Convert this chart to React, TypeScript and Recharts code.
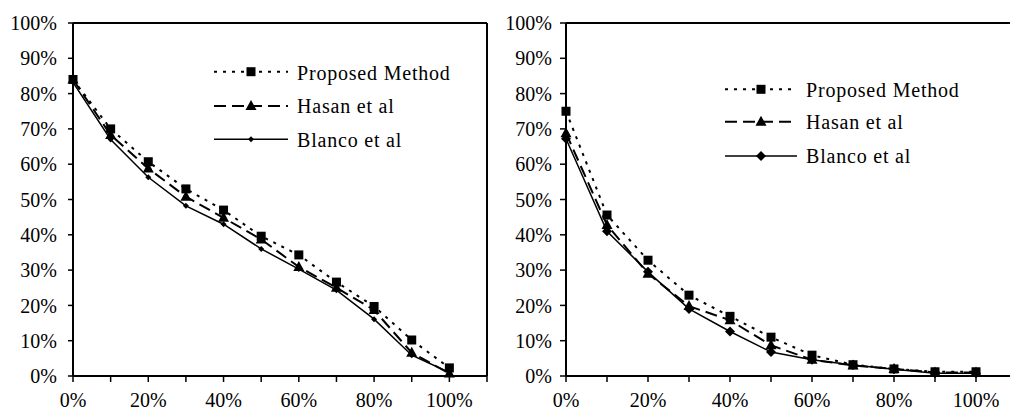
import React from 'react'
import {
  LineChart,
  Line,
  XAxis,
  YAxis,
  ReferenceLine,
  Legend,
} from 'recharts'

const FONT = '"Liberation Serif", "Times New Roman", serif'

const categories = [0, 10, 20, 30, 40, 50, 60, 70, 80, 90, 100]
const xTicks = [0, 10, 20, 30, 40, 50, 60, 70, 80, 90, 100, 110]
const yTicks = [0, 10, 20, 30, 40, 50, 60, 70, 80, 90, 100]

const seriesNames = ['Proposed Method', 'Hasan et al', 'Blanco et al']

// left panel
const leftProposed = [84, 70, 60.7, 53, 47, 39.6, 34.3, 26.6, 19.7, 10.2, 2.3]
const leftHasan = [84, 68.3, 58.8, 50.8, 44.8, 38.7, 30.9, 25, 18.7, 6.6, 0.7]
const leftBlanco = [83.2, 67, 56.3, 48.2, 43, 36, 30.3, 24.3, 16.1, 5.9, 1]

// right panel
const rightProposed = [75, 45.6, 32.8, 22.9, 16.9, 11, 5.9, 3.2, 2, 1.2, 1.2]
const rightHasan = [68.8, 42.8, 29, 19.8, 15.8, 8.7, 4.6, 3, 2, 1, 1]
const rightBlanco = [67.2, 41, 29.5, 19, 12.6, 6.8, 4.6, 3.1, 1.9, 0.8, 0.8]

const buildRows = (p: number[], h: number[], b: number[]) =>
  categories.map((x, i) => ({ x, p: p[i], h: h[i], b: b[i] }))

const leftData = buildRows(leftProposed, leftHasan, leftBlanco)
const rightData = buildRows(rightProposed, rightHasan, rightBlanco)

const squareShape = (cx: number, cy: number, key?: any) => (
  <rect key={key} x={cx - 4.5} y={cy - 4.5} width={9} height={9} fill="#000" />
)
const triangleShape = (cx: number, cy: number, key?: any) => (
  <polygon
    key={key}
    points={`${cx},${cy - 6} ${cx - 5.5},${cy + 4} ${cx + 5.5},${cy + 4}`}
    fill="#000"
  />
)
const diamondShape = (cx: number, cy: number, r: number, key?: any) => (
  <polygon
    key={key}
    points={`${cx},${cy - r} ${cx + r},${cy} ${cx},${cy + r} ${cx - r},${cy}`}
    fill="#000"
  />
)

const styles = {
  p: { dash: '3 6', width: 2 },
  h: { dash: '12 6', width: 2 },
  b: { dash: undefined, width: 1.5 },
}

const XTick = (props: any) => {
  const { x, y, payload } = props
  const v = payload.value
  if (v % 20 !== 0 || v > 100) return <g />
  return (
    <text x={x} y={y} dy="0.71em" textAnchor="middle" fill="#000" fontSize={20} fontFamily={FONT}>
      {`${v}%`}
    </text>
  )
}

interface LegendLayout {
  left: number
  top: number
  lineX1: number
  lineX2: number
  textX: number
  rowY: number[]
  textY: number[]
  diamond: number
}

const makeLegend = (lay: LegendLayout) => () => {
  const mid = (lay.lineX1 + lay.lineX2) / 2
  const keys = ['p', 'h', 'b'] as const
  return (
    <svg width={300} height={130} style={{ overflow: 'visible' }}>
      {keys.map((k, i) => {
        const y = lay.rowY[i]
        return (
          <g key={k}>
            <line
              x1={lay.lineX1}
              x2={lay.lineX2}
              y1={y}
              y2={y}
              stroke="#000"
              strokeWidth={styles[k].width}
              strokeDasharray={styles[k].dash}
            />
            {k === 'p' && squareShape(mid, y)}
            {k === 'h' && triangleShape(mid, y)}
            {k === 'b' && diamondShape(mid, y, lay.diamond)}
            <text
              x={lay.textX}
              y={lay.textY[i]}
              fill="#000"
              fontSize={20}
              fontFamily={FONT}
              letterSpacing={0.8}
            >
              {seriesNames[i]}
            </text>
          </g>
        )
      })}
    </svg>
  )
}

interface PanelProps {
  data: { x: number; p: number; h: number; b: number }[]
  width: number
  yAxisWidth: number
  yTickSize: number
  yTickMargin: number
  diamond: number
  legend: LegendLayout
}

function Panel({ data, width, yAxisWidth, yTickSize, yTickMargin, diamond, legend }: PanelProps) {
  return (
    <LineChart
      width={width}
      height={412}
      data={data}
      margin={{ top: 23, right: 13, left: 0, bottom: 0 }}
    >
      <XAxis
        type="number"
        dataKey="x"
        domain={[0, 110]}
        ticks={xTicks}
        interval={0}
        height={36}
        axisLine={{ stroke: '#000', strokeWidth: 2 }}
        tickLine={{ stroke: '#000', strokeWidth: 1.5 }}
        tickSize={6}
        tickMargin={11}
        tick={<XTick />}
      />
      <YAxis
        type="number"
        domain={[0, 100]}
        ticks={yTicks}
        interval={0}
        width={yAxisWidth}
        axisLine={{ stroke: '#000', strokeWidth: 2 }}
        tickLine={{ stroke: '#000', strokeWidth: 1.5 }}
        tickSize={yTickSize}
        tickMargin={yTickMargin}
        tick={{ fill: '#000', fontSize: 20, fontFamily: FONT }}
        tickFormatter={(v: number) => `${v}%`}
      />
      <ReferenceLine y={100} stroke="#000" strokeWidth={2} />
      <ReferenceLine x={110} stroke="#000" strokeWidth={2} />
      <Legend
        layout="horizontal"
        verticalAlign="middle"
        align="center"
        content={makeLegend(legend)}
        wrapperStyle={{ position: 'absolute', left: legend.left, top: legend.top, width: 300, height: 130 }}
      />
      <Line
        dataKey="p"
        stroke="#000"
        strokeWidth={styles.p.width}
        strokeDasharray={styles.p.dash}
        isAnimationActive={false}
        dot={(d: any) => squareShape(d.cx, d.cy, `p${d.index}`)}
        activeDot={false}
      />
      <Line
        dataKey="h"
        stroke="#000"
        strokeWidth={styles.h.width}
        strokeDasharray={styles.h.dash}
        isAnimationActive={false}
        dot={(d: any) => triangleShape(d.cx, d.cy, `h${d.index}`)}
        activeDot={false}
      />
      <Line
        dataKey="b"
        stroke="#000"
        strokeWidth={styles.b.width}
        isAnimationActive={false}
        dot={(d: any) => diamondShape(d.cx, d.cy, diamond, `b${d.index}`)}
        activeDot={false}
      />
    </LineChart>
  )
}

export default function App() {
  return (
    <div
      style={{
        position: 'absolute',
        left: 0,
        top: 0,
        width: 1010,
        height: 412,
        overflow: 'hidden',
        background: '#fff',
      }}
    >
      <div style={{ position: 'absolute', left: 0, top: 0 }}>
        <Panel
          data={leftData}
          width={500}
          yAxisWidth={73}
          yTickSize={5}
          yTickMargin={11}
          diamond={3}
          legend={{
            left: 200,
            top: 50,
            lineX1: 14,
            lineX2: 88,
            textX: 97,
            rowY: [21.7, 56, 89.3],
            textY: [30, 63.3, 96.7],
            diamond: 3,
          }}
        />
      </div>
      <div style={{ position: 'absolute', left: 500, top: 0 }}>
        <Panel
          data={rightData}
          width={530}
          yAxisWidth={66}
          yTickSize={6}
          yTickMargin={8}
          diamond={5}
          legend={{
            left: 200,
            top: 60,
            lineX1: 25,
            lineX2: 97,
            textX: 106,
            rowY: [29.3, 61.7, 96],
            textY: [36.7, 69.3, 103.3],
            diamond: 5,
          }}
        />
      </div>
    </div>
  )
}
